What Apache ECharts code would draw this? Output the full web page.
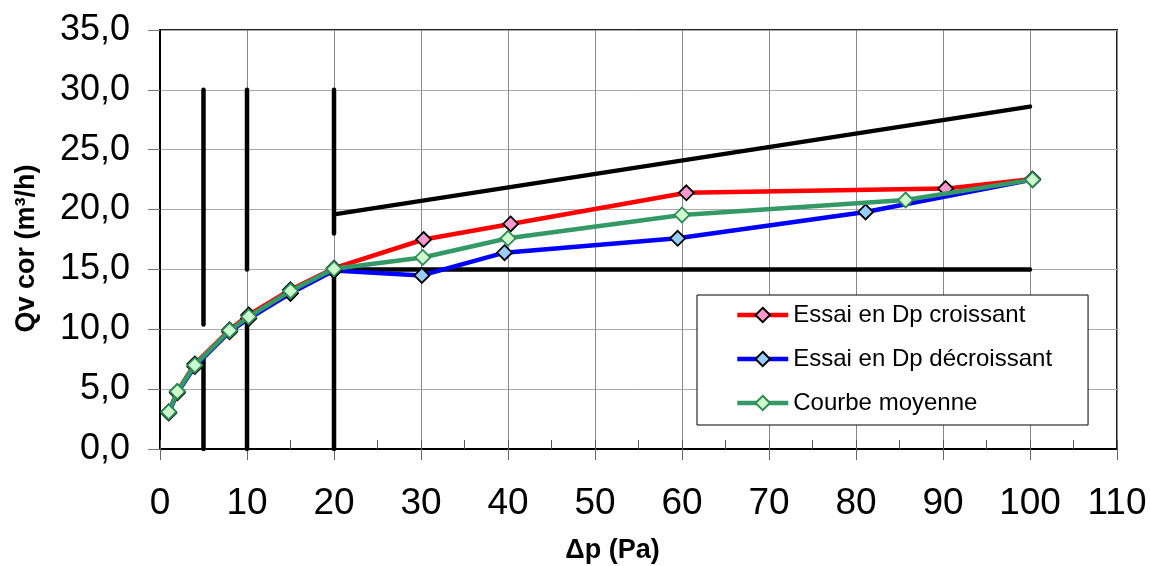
<!DOCTYPE html>
<html><head><meta charset="utf-8">
<script src="https://cdn.jsdelivr.net/npm/echarts@6/dist/echarts.min.js"></script>
<style>html,body{margin:0;padding:0;background:#fff}#c{width:1150px;height:566px}</style>
</head><body><div id="c"></div>
<script>
// ---- data ----
const seriesNames = ['Essai en Dp croissant', 'Essai en Dp décroissant', 'Courbe moyenne'];
const croissantX = [1, 2, 4, 8, 10.2, 15, 20, 30.3, 40.3, 60.5, 90.3, 100.3];
const croissantY = [3.1, 4.8, 7.1, 9.95, 11.2, 13.3, 15.1, 17.5, 18.8, 21.4, 21.75, 22.55];
const decroissantX = [100.3, 81.1, 59.5, 39.6, 30.1, 20, 15, 10.2, 8, 4, 2, 1];
const decroissantY = [22.5, 19.8, 17.6, 16.4, 14.5, 14.9, 13.0, 10.9, 9.8, 6.9, 4.7, 3.0];
const moyenneX = [1, 2, 4, 8, 10.2, 15, 20, 30.2, 40, 60, 85.7, 100.3];
const moyenneY = [3.1, 4.8, 7.0, 9.9, 11.05, 13.2, 15.05, 16.0, 17.6, 19.55, 20.8, 22.5];
// black limit segments: [x1, y1, x2, y2]
const limitSegments = [
  [5, 30, 5, 10.4], [5, 0, 5, 7.6],
  [10, 30, 10, 15], [10, 0, 10, 11],
  [20, 30, 20, 18], [20, 0, 20, 15],
  [20, 19.6, 100, 28.6],
  [20, 15, 100, 15]
];
const xTickValues = [0, 10, 20, 30, 40, 50, 60, 70, 80, 90, 100, 110];
const yTickValues = [0, 5, 10, 15, 20, 25, 30, 35];

// ---- chart ----
const FONT = '"Liberation Sans", Arial, sans-serif';
const zip = (xs, ys) => xs.map((x, i) => [x, ys[i]]);
const fmtY = v => v.toFixed(1).replace('.', ',');

const limitSeries = limitSegments.map((s, i) => ({
  name: 'limit' + i, type: 'line', symbol: 'none', silent: true, z: 1,
  data: [[s[0], s[1]], [s[2], s[3]]],
  lineStyle: { color: '#000', width: 4.5, cap: 'round' }
}));

function dataSeries(name, data, lineColor, fill, border, z) {
  return {
    name, type: 'line', data, z,
    symbol: 'diamond', symbolSize: 15, showSymbol: true,
    lineStyle: { color: lineColor, width: 4.5 },
    itemStyle: { color: fill, borderColor: border, borderWidth: 1.8 }
  };
}

const chart = echarts.init(document.getElementById('c'), null, { renderer: 'canvas' });
chart.setOption({
  animation: false,
  backgroundColor: '#fff',
  textStyle: { fontFamily: FONT },
  grid: { left: 160, right: 33, top: 30, bottom: 117, show: true, borderColor: '#222', borderWidth: 2,
          containLabel: false, outerBoundsMode: 'none' },
  legend: {
    data: seriesNames, orient: 'vertical', left: 697, top: 295,
    padding: [8, 36, 10, 38], itemGap: 20, itemWidth: 51, itemHeight: 18,
    borderColor: '#000', borderWidth: 1, backgroundColor: '#fff',
    lineStyle: { width: 4.5 },
    textStyle: { fontSize: 24, color: '#000', fontFamily: FONT }
  },
  xAxis: [{
    type: 'value', min: xTickValues[0], max: xTickValues[xTickValues.length - 1], interval: 10,
    axisLine: { show: true, onZero: false, lineStyle: { color: '#000', width: 2 } },
    axisTick: { show: true, length: 11, lineStyle: { color: '#666' } },
    axisLabel: { margin: 36, fontSize: 37, color: '#000', fontFamily: FONT },
    splitLine: { show: true, lineStyle: { color: '#8a8a8a', width: 1 } },
    name: 'Δp (Pa)', nameLocation: 'middle', nameGap: 88,
    nameTextStyle: { fontSize: 27, fontWeight: 'bold', color: '#000', fontFamily: FONT, padding: [0, 52, 0, 0] }
  }, {
    type: 'value', min: 0, max: 110, interval: 5, position: 'bottom',
    axisLine: { show: false }, axisLabel: { show: false }, splitLine: { show: false },
    axisTick: { show: true, inside: true, length: 9, lineStyle: { color: '#555' } }
  }],
  yAxis: {
    type: 'value', min: yTickValues[0], max: yTickValues[yTickValues.length - 1], interval: 5,
    axisLine: { show: true, onZero: false, lineStyle: { color: '#000', width: 2 } },
    axisTick: { show: true, length: 12, lineStyle: { color: '#777' } },
    axisLabel: { margin: 30, fontSize: 36, color: '#000', fontFamily: FONT, formatter: fmtY },
    splitLine: { show: true, lineStyle: { color: '#ababab', width: 1 } },
    name: 'Qv cor (m³/h)', nameLocation: 'middle', nameGap: 120,
    nameTextStyle: { fontSize: 27, fontWeight: 'bold', color: '#000', fontFamily: FONT, padding: [0, 18, 0, 0] }
  },
  series: limitSeries.concat([
    dataSeries(seriesNames[0], zip(croissantX, croissantY), '#ff0000', '#ff99cc', '#000', 3),
    dataSeries(seriesNames[1], zip(decroissantX, decroissantY), '#0000ff', '#99ccff', '#000', 4),
    dataSeries(seriesNames[2], zip(moyenneX, moyenneY), '#339966', '#ccffcc', '#2e8b57', 5)
  ])
});
</script></body></html>
